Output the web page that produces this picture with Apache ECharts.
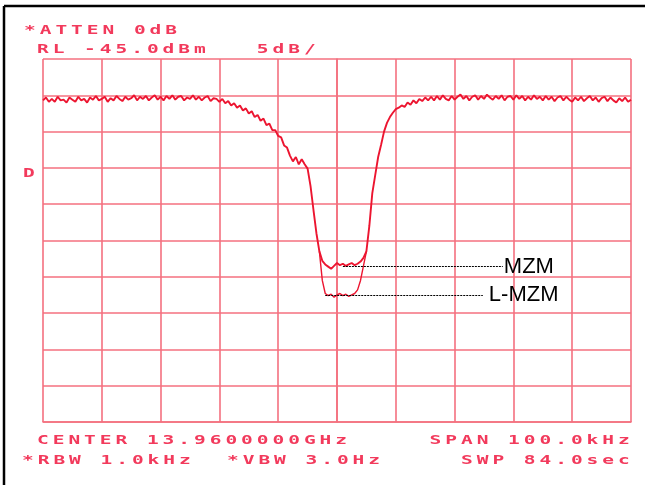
<!DOCTYPE html>
<html>
<head>
<meta charset="utf-8">
<script src="https://cdn.jsdelivr.net/npm/echarts@6/dist/echarts.min.js"></script>
<style>
  html, body { margin: 0; padding: 0; background: #fff; }
  #chart { width: 645px; height: 485px; }
</style>
</head>
<body>
<div id="chart"></div>
<script>
// sweep: -50 .. +50 kHz around centre, 0.5 kHz per trace point
const sweepStart = -50;
const sweepStep = 0.5;

// MZM trace (dBm), one value per sweep point
const mzmLevel = [
  // flat, left
  -50.7, -50.3, -50.9, -50.5, -50.9, -50.2, -50.7, -50.6, -51.0, -50.3,
  -50.6, -50.9, -50.2, -50.7, -50.5, -51.0, -50.3, -50.6, -50.1, -50.7,
  -50.5, -50.2, -50.9, -50.4, -50.7, -50.1, -50.5, -50.8, -50.2, -50.6,
  -50.4, -50.0, -50.7, -50.2, -50.5, -50.1, -50.7, -50.3, -50.0, -50.6,
  -50.2, -50.7, -50.1, -50.5, -50.0, -50.6, -50.2, -50.1, -50.7, -50.3,
  -50.5, -50.0, -50.6, -50.2, -50.7, -50.3, -50.1, -50.8, -50.4,
  // slow slope
  -50.5, -50.9, -50.5, -51.1, -50.8, -51.4, -51.1, -51.7, -51.4, -52.1,
  -51.8, -52.5, -52.2, -53.0, -52.7, -53.5, -53.2, -54.1, -53.9, -54.8,
  -54.8, -55.6, -55.8, -56.9, -57.2, -58.3, -59.1, -58.5, -59.5, -58.8,
  -59.5, -60.1,
  // notch
  -62.5, -65.8, -69.0, -71.5, -72.8, -73.3, -73.6, -73.9, -73.5, -73.1,
  -73.4, -73.2, -73.5, -73.3, -73.1, -73.4, -73.2, -72.9, -72.4,
  // rise
  -71.5, -68.0, -63.5, -61.0, -58.5, -56.8, -55.0, -53.8, -53.0, -52.4,
  -51.9, -51.7, -51.4, -51.6, -51.0, -51.3, -50.7, -51.1, -50.5, -50.8,
  -50.3, -50.7,
  // flat, right
  -50.2, -50.7, -50.1, -50.6, -50.0, -50.5, -50.7, -50.1, -50.6, -50.2,
  -49.9, -50.5, -50.1, -50.7, -50.2, -50.0, -50.6, -50.1, -50.5, -49.9,
  -50.3, -50.6, -50.1, -50.5, -50.0, -50.7, -50.2, -50.1, -50.6, -50.0,
  -50.5, -50.1, -50.7, -50.2, -50.6, -50.0, -50.5, -50.2, -50.7, -50.1,
  -50.6, -50.2, -50.8, -50.3, -50.1, -50.7, -50.2, -50.6, -50.9, -50.3,
  -50.7, -50.2, -50.8, -50.4, -50.1, -50.7, -50.3, -50.9, -50.4, -50.2,
  -50.8, -50.3, -50.7, -51.0, -50.4, -50.8, -50.3, -50.9, -50.6
];

// L-MZM trace, only where it differs (notch bottom)
const lmzmStart = -3;
const lmzmLevel = [
  -71.5, -75.5, -77.3, -77.6, -77.4, -77.8, -77.5, -77.3, -77.6,
  -77.4, -77.7, -77.5, -77.3, -76.8, -75.5, -73.5, -71.5
];

// leader lines: [from kHz, to kHz, level dBm]
const mzmLeader = [1.0, 28.2, -73.6];
const lmzmLeader = [-2.0, 24.8, -77.5];

const headerLines = ['*ATTEN 0dB', 'RL -45.0dBm   5dB/'];
const footerLeft = ['CENTER 13.9600000GHz', '*RBW 1.0kHz'];
const footerMid = '*VBW 3.0Hz';
const footerRight = ['SPAN 100.0kHz', 'SWP 84.0sec'];

const RED_TEXT = '#f23a5c';
const TRACE = '#ec1530';
const GRID = '#f4707f';
const PITCH = 15.7;

function toPairs(start, levels) {
  return levels.map((v, i) => [start + i * sweepStep, v]);
}

// analyser text: fixed pitch, wide glyphs
function textRow(str, x, y) {
  const els = [];
  for (let i = 0; i < str.length; i++) {
    if (str[i] === ' ') continue;
    els.push({
      type: 'text',
      x: x + i * PITCH,
      y: y,
      scaleX: 1.5,
      silent: true,
      style: {
        text: str[i],
        fill: RED_TEXT,
        font: 'bold 13px "DejaVu Sans Mono"',
        align: 'left',
        verticalAlign: 'middle'
      }
    });
  }
  return els;
}

function rightRow(str, xEnd, y) {
  return textRow(str, xEnd - (str.length - 1) * PITCH - 11, y);
}

const chart = echarts.init(document.getElementById('chart'), null, { renderer: 'canvas' });

const graphics = [
  { type: 'line', shape: { x1: 4, y1: 6, x2: 645, y2: 6 }, style: { stroke: '#000', lineWidth: 2.5 } },
  { type: 'line', shape: { x1: 4, y1: 6, x2: 4, y2: 485 }, style: { stroke: '#000', lineWidth: 2.5 } }
]
  .concat(textRow(headerLines[0], 24, 31))
  .concat(textRow(headerLines[1], 37, 50))
  .concat(textRow('D', 23, 174))
  .concat(textRow(footerLeft[0], 37, 441))
  .concat(textRow(footerLeft[1], 22, 461))
  .concat(textRow(footerMid, 227, 461))
  .concat(rightRow(footerRight[0], 629, 441))
  .concat(rightRow(footerRight[1], 629, 461));

function leader(name, l, dist) {
  return {
    silent: true,
    symbol: 'none',
    lineStyle: { color: '#000', width: 1, type: [2, 1] },
    label: {
      show: true,
      position: 'end',
      distance: dist,
      formatter: name,
      color: '#000',
      fontSize: 22,
      fontFamily: '"Liberation Sans", Arial, sans-serif'
    },
    data: [[{ coord: [l[0], l[2]] }, { coord: [l[1], l[2]] }]]
  };
}

const option = {
  backgroundColor: '#ffffff',
  animation: false,
  grid: { left: 43, top: 59, width: 588, height: 363 },
  xAxis: {
    type: 'value',
    min: -50,
    max: 50,
    interval: 10,
    axisLine: { show: true, lineStyle: { color: GRID, width: 1.6 } },
    axisTick: { show: false },
    axisLabel: { show: false },
    splitLine: { show: true, lineStyle: { color: GRID, width: 1.6 } }
  },
  yAxis: {
    type: 'value',
    min: -95,
    max: -45,
    interval: 5,
    axisLine: { show: true, lineStyle: { color: GRID, width: 1.6 } },
    axisTick: { show: false },
    axisLabel: { show: false },
    splitLine: { show: true, lineStyle: { color: GRID, width: 1.6 } }
  },
  series: [
    {
      name: 'MZM',
      type: 'line',
      showSymbol: false,
      data: toPairs(sweepStart, mzmLevel),
      lineStyle: { color: TRACE, width: 1.9 },
      markLine: leader('MZM', mzmLeader, 1),
      z: 3
    },
    {
      name: 'L-MZM',
      type: 'line',
      showSymbol: false,
      data: toPairs(lmzmStart, lmzmLevel),
      lineStyle: { color: TRACE, width: 1.4 },
      markLine: leader('L-MZM', lmzmLeader, 6),
      z: 3
    }
  ],
  graphic: graphics
};

chart.setOption(option);
</script>
</body>
</html>
